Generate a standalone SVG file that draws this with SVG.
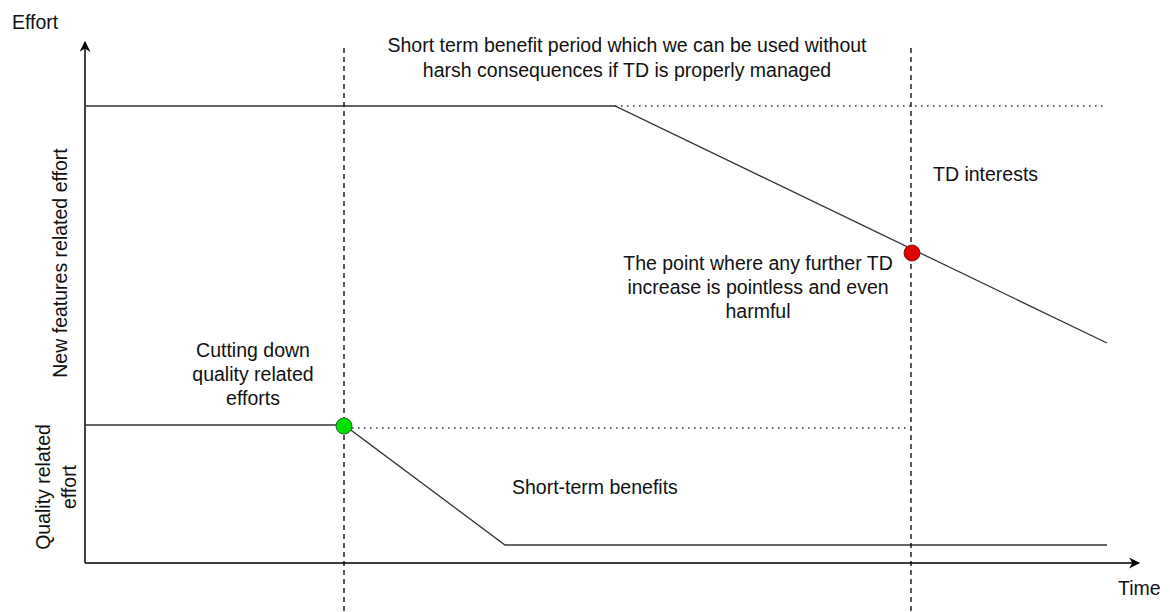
<svg xmlns="http://www.w3.org/2000/svg" width="1170" height="612" viewBox="0 0 1170 612">
  <defs>
    <marker id="arrow" viewBox="0 0 10 10" refX="9" refY="5" markerWidth="11" markerHeight="11" markerUnits="userSpaceOnUse" orient="auto">
      <path d="M0,0 L10,5 L0,10 L3,5 Z" fill="#000"/>
    </marker>
    <style>
      .axis { stroke: #000; stroke-width: 1.5; fill: none; }
      .curve { stroke: #333; stroke-width: 1.3; fill: none; }
      .dashed { stroke: #000; stroke-width: 1.3; stroke-dasharray: 5 4; fill: none; }
      .dotted { stroke: #333; stroke-width: 1.3; stroke-dasharray: 1.5 4.5; fill: none; }
      text { font-family: "Liberation Sans", Arial, sans-serif; font-size: 19.5px; fill: #111; }
      .mid { text-anchor: middle; }
    </style>
  </defs>

  <rect width="1170" height="612" fill="#fff"/>

  <!-- axes -->
  <g id="axes">
    <line class="axis" x1="85" y1="563" x2="85" y2="42" marker-end="url(#arrow)"/>
    <line class="axis" x1="85" y1="563" x2="1139" y2="563" marker-end="url(#arrow)"/>
    <text x="12" y="29">Effort</text>
    <text x="1118" y="595">Time</text>
  </g>

  <!-- effort curves and guide lines -->
  <g id="connectors">
    <polyline class="curve" points="85,106 615,106 1107,343"/>
    <polyline class="curve" points="85,425 344,425 505,545 1107,545"/>
    <line class="dotted" x1="615" y1="106" x2="1107" y2="106"/>
    <line class="dotted" x1="352" y1="428" x2="910" y2="428"/>
    <line class="dashed" x1="344" y1="48" x2="344" y2="612"/>
    <line class="dashed" x1="911" y1="48" x2="911" y2="612"/>
  </g>

  <!-- markers on the curves -->
  <g id="quality-cut">
    <circle cx="344" cy="426" r="8" fill="#00e000" stroke="#226622" stroke-width="1"/>
  </g>
  <g id="td-limit">
    <circle cx="912" cy="253" r="8" fill="#e00000" stroke="#772222" stroke-width="1"/>
  </g>

  <!-- labels -->
  <g id="label-period">
    <text class="mid" x="627" y="52">Short term benefit period which we can be used without</text>
    <text class="mid" x="627" y="77">harsh consequences if TD is properly managed</text>
  </g>
  <g id="label-interests">
    <text x="933" y="181">TD interests</text>
  </g>
  <g id="label-point">
    <text class="mid" x="758" y="270">The point where any further TD</text>
    <text class="mid" x="758" y="294">increase is pointless and even</text>
    <text class="mid" x="758" y="318">harmful</text>
  </g>
  <g id="label-cutting">
    <text class="mid" x="253" y="357">Cutting down</text>
    <text class="mid" x="253" y="381">quality related</text>
    <text class="mid" x="253" y="405">efforts</text>
  </g>
  <g id="label-benefits">
    <text x="512" y="494">Short-term benefits</text>
  </g>
  <g id="label-newfeatures">
    <text class="mid" transform="translate(67,263) rotate(-90)">New features related effort</text>
  </g>
  <g id="label-quality">
    <text class="mid" transform="translate(50,487) rotate(-90)">Quality related</text>
    <text class="mid" transform="translate(76,487) rotate(-90)">effort</text>
  </g>
</svg>
